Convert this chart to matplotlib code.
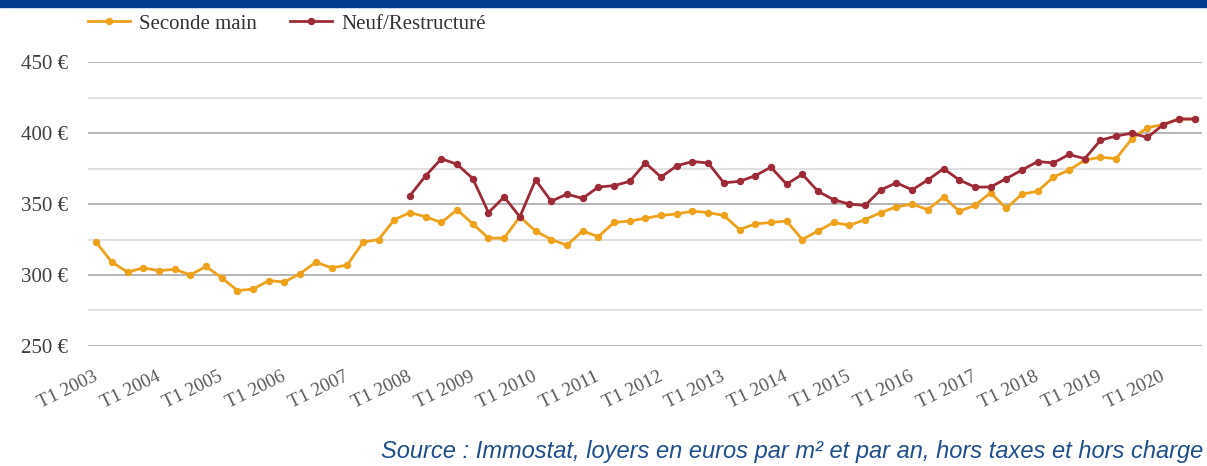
import matplotlib
matplotlib.use("Agg")
import matplotlib.pyplot as plt
from matplotlib.patches import Rectangle
from matplotlib.lines import Line2D
from matplotlib.transforms import ScaledTranslation
import numpy as np

# quarterly rents, T1 2003 .. T3 2020
seconde_main = [323, 309, 302, 305, 303, 304, 300, 306, 298, 289,
                290, 296, 295, 301, 309, 305, 307, 323, 325, 339,
                344, 341, 337, 346, 336, 326, 326, 341, 331, 325,
                321, 331, 327, 337, 338, 340, 342, 343, 345, 344,
                342, 332, 336, 337, 338, 325, 331, 337, 335, 339,
                344, 348, 350, 346, 355, 345, 349, 358, 347, 357,
                359, 369, 374, 381, 383, 382, 396, 404, 406, 410,
                410]
neuf = [None] * 20 + [356, 370, 382, 378, 368, 344, 355, 341, 367, 352,
                      357, 354, 362, 363, 366, 379, 369, 377, 380, 379,
                      365, 366, 370, 376, 364, 371, 359, 353, 350, 349,
                      360, 365, 360, 367, 375, 367, 362, 362, 368, 374,
                      380, 379, 385, 382, 395, 398, 400, 397, 406, 410,
                      410]
tick_labels = ["T1 2003", "T1 2004", "T1 2005", "T1 2006", "T1 2007",
               "T1 2008", "T1 2009", "T1 2010", "T1 2011", "T1 2012",
               "T1 2013", "T1 2014", "T1 2015", "T1 2016", "T1 2017",
               "T1 2018", "T1 2019", "T1 2020"]
yticks = [250, 300, 350, 400, 450]

orange = "#eea21b"
red = "#9d2a36"
serif = "Liberation Serif"

fig = plt.figure(figsize=(12.07, 4.66), dpi=100)
ax = fig.add_axes([0.0732, 0.2579, 0.9230, 0.6084])

x = np.arange(len(seconde_main))
neuf_arr = np.array([np.nan if v is None else v for v in neuf], dtype=float)

ax.plot(x, seconde_main, color=orange, lw=2.0, marker="o", ms=4.3,
        label="Seconde main", zorder=3)
ax.plot(x, neuf_arr, color=red, lw=2.0, marker="o", ms=4.3,
        label="Neuf/Restructuré", zorder=4)

ax.set_xlim(-0.5, len(x) - 0.5)
ax.set_ylim(250, 450)

# gridlines: major every 50, minor every 25
for v in range(250, 451, 25):
    c = "#a9a9a9" if v % 50 == 0 else "#dadada"
    ax.axhline(v, color=c, lw=1.2, zorder=1)

for s in ax.spines.values():
    s.set_visible(False)

ax.set_yticks(yticks)
ax.set_yticklabels([f"{v} €" for v in yticks], fontfamily=serif,
                   fontsize=15, color="#404040")
ax.set_xticks(np.arange(0, len(x), 4))
ax.set_xticklabels(tick_labels, fontfamily=serif, fontsize=13.8,
                   color="#595959", rotation=26, ha="right", va="top")
ax.tick_params(axis="y", length=0, pad=15)
ax.tick_params(axis="x", length=0, pad=16)
shift = ScaledTranslation(4 / 100, 0, fig.dpi_scale_trans)
for lab in ax.get_xticklabels():
    lab.set_transform(lab.get_transform() + shift)

handles = [Line2D([], [], color=orange, lw=2.0, marker="o", ms=4.3),
           Line2D([], [], color=red, lw=2.0, marker="o", ms=4.3)]
fig.legend(handles, ["Seconde main", "Neuf/Restructuré"], loc="center left",
           bbox_to_anchor=(0.0729, 0.9485), ncol=2, frameon=False,
           prop={"family": serif, "size": 15}, handlelength=2.0,
           handletextpad=0.45, columnspacing=1.6, borderpad=0,
           borderaxespad=0, labelcolor="#333333")

# top band
fig.add_artist(Rectangle((0, 1 - 7 / 466), 1, 7 / 466, transform=fig.transFigure,
                         color="#003d8c", zorder=0))

fig.text(0.9967, 0.006,
         "Source : Immostat, loyers en euros par m² et par an, hors taxes et hors charge",
         ha="right", va="bottom", fontfamily="Liberation Sans", style="italic",
         fontsize=17, color="#1f4e8f")

fig.savefig("out.png", dpi=100)
